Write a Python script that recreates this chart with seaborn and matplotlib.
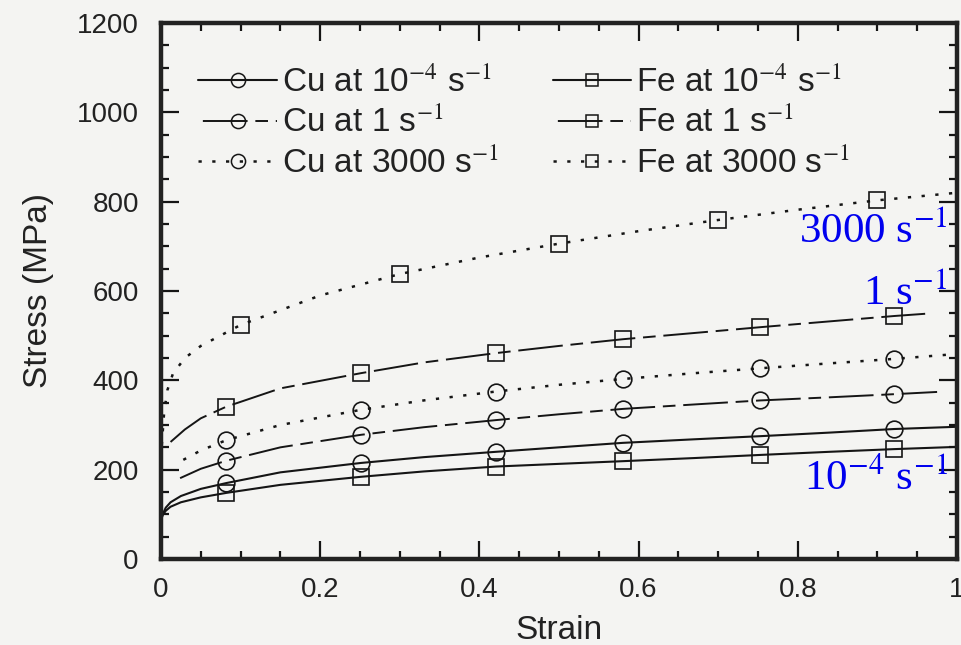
import matplotlib
matplotlib.use("Agg")
import matplotlib.pyplot as plt
from matplotlib.lines import Line2D
from matplotlib.ticker import MultipleLocator
import seaborn as sns

# curves (strain, stress MPa)
cu_slow_strain = [0, 0.002, 0.006, 0.012, 0.025, 0.05, 0.082, 0.15, 0.251, 0.33, 0.421, 0.5, 0.58, 0.67, 0.753, 0.84, 0.921, 1.0]
cu_slow_stress = [85, 100, 115, 127, 141, 157, 170, 194, 215, 228, 240, 250, 260, 268, 275, 283, 291, 296]
cu_mid_strain = [0.024, 0.05, 0.082, 0.15, 0.251, 0.33, 0.421, 0.5, 0.58, 0.67, 0.753, 0.84, 0.921, 0.975]
cu_mid_stress = [181, 202, 220, 250, 278, 295, 311, 324, 336, 346, 355, 362, 369, 374]
cu_fast_strain = [0.028, 0.05, 0.082, 0.15, 0.251, 0.33, 0.421, 0.5, 0.58, 0.67, 0.753, 0.84, 0.921, 1.0]
cu_fast_stress = [222, 243, 266, 300, 334, 355, 375, 390, 403, 416, 427, 438, 448, 459]
fe_slow_strain = [0, 0.002, 0.006, 0.012, 0.025, 0.05, 0.082, 0.15, 0.251, 0.33, 0.421, 0.5, 0.58, 0.67, 0.753, 0.84, 0.921, 1.0]
fe_slow_stress = [85, 98, 108, 117, 127, 138, 148, 166, 184, 196, 207, 213, 219, 226, 233, 240, 246, 251]
fe_mid_strain = [0.012, 0.03, 0.05, 0.082, 0.15, 0.251, 0.33, 0.421, 0.5, 0.58, 0.67, 0.753, 0.84, 0.921, 0.96]
fe_mid_stress = [262, 290, 315, 341, 382, 416, 440, 461, 477, 492, 506, 519, 532, 544, 549]
fe_fast_strain = [0.001, 0.004, 0.008, 0.015, 0.03, 0.05, 0.1, 0.2, 0.3, 0.4, 0.5, 0.6, 0.7, 0.8, 0.9, 1.0]
fe_fast_stress = [255, 330, 378, 415, 450, 477, 524, 590, 638, 675, 706, 734, 759, 782, 803, 820]

# marker positions
mark_strain = [0.082, 0.251, 0.421, 0.58, 0.753, 0.921]
cu_slow_marks = [170, 215, 240, 260, 275, 291]
cu_mid_marks = [220, 278, 311, 336, 355, 369]
cu_fast_marks = [266, 334, 375, 403, 427, 448]
fe_slow_marks = [148, 184, 207, 219, 233, 246]
fe_mid_marks = [341, 416, 461, 492, 519, 544]
fe_fast_mark_strain = [0.1, 0.3, 0.5, 0.7, 0.9]
fe_fast_marks = [524, 638, 706, 759, 803]

labels = [
    r"Cu at 10$^{-4}$ s$^{-1}$", r"Cu at 1 s$^{-1}$", r"Cu at 3000 s$^{-1}$",
    r"Fe at 10$^{-4}$ s$^{-1}$", r"Fe at 1 s$^{-1}$", r"Fe at 3000 s$^{-1}$",
]
rate_notes = [r"3000 s$^{-1}$", r"1 s$^{-1}$", r"10$^{-4}$ s$^{-1}$"]
rate_note_y = [707, 569, 154]
xtick_labels = ["0", "0.2", "0.4", "0.6", "0.8", "1"]

sns.set_style("ticks")
plt.rcParams["font.family"] = ["Liberation Sans", "DejaVu Sans"]
plt.rcParams["mathtext.fontset"] = "stix"

BG = "#f4f4f2"
INK = "#151515"
solid = "-"
dashdot = (0, (23, 4, 6.5, 4))
dotted = (0, (1.3, 4.2))

fig = plt.figure(figsize=(9.61, 6.45), dpi=100, facecolor=BG)
ax = fig.add_axes([161 / 961, 86 / 645, 796 / 961, 536 / 645])
ax.set_facecolor(BG)

series = [
    (cu_slow_strain, cu_slow_stress, mark_strain, cu_slow_marks, "o", solid, 1.5),
    (cu_mid_strain, cu_mid_stress, mark_strain, cu_mid_marks, "o", dashdot, 1.4),
    (cu_fast_strain, cu_fast_stress, mark_strain, cu_fast_marks, "o", dotted, 1.8),
    (fe_slow_strain, fe_slow_stress, mark_strain, fe_slow_marks, "s", solid, 1.5),
    (fe_mid_strain, fe_mid_stress, mark_strain, fe_mid_marks, "s", dashdot, 1.4),
    (fe_fast_strain, fe_fast_stress, fe_fast_mark_strain, fe_fast_marks, "s", dotted, 1.8),
]

handles = []
for (xs, ys, mx, my, mk, ls, lw), lab in zip(series, labels):
    sns.lineplot(x=xs, y=ys, ax=ax, color=INK, linestyle=ls, linewidth=lw,
                 sort=False, estimator=None)
    ms = 12 if mk == "o" else 11
    sns.lineplot(x=mx, y=my, ax=ax, color=INK, linestyle="none", marker=mk,
                 markersize=ms, markerfacecolor="none", markeredgecolor=INK,
                 markeredgewidth=1.2, sort=False, estimator=None)
    # legend sample starts with a gap and a short dash, like the original
    leg_ls = (25 * lw, dashdot[1]) if ls == dashdot else ls
    handles.append(Line2D([], [], color=INK, linestyle=leg_ls, linewidth=lw, marker=mk,
                          markersize=ms * 0.85, markerfacecolor="none",
                          markeredgecolor=INK, markeredgewidth=1.1, label=lab))

ax.set_xlim(0, 1)
ax.set_ylim(0, 1200)
ax.xaxis.set_major_locator(MultipleLocator(0.2))
ax.xaxis.set_minor_locator(MultipleLocator(0.05))
ax.yaxis.set_major_locator(MultipleLocator(200))
ax.yaxis.set_minor_locator(MultipleLocator(50))
ax.set_xticks([0, 0.2, 0.4, 0.6, 0.8, 1.0])
ax.set_xticklabels(xtick_labels)
ax.tick_params(which="both", direction="in", top=True, right=True, colors=INK,
               labelcolor="#222222")
ax.tick_params(which="major", length=13, width=1.6, labelsize=20)
ax.tick_params(axis="y", which="major", pad=16)
ax.tick_params(axis="x", which="major", pad=13)
ax.tick_params(which="minor", length=6, width=1.6)
for sp in ax.spines.values():
    sp.set_linewidth(3.2)
    sp.set_color("#222222")

ax.set_xlabel("Strain", fontsize=24, color="#222222")
ax.set_ylabel("Stress (MPa)", fontsize=24, color="#222222")
ax.xaxis.set_label_coords(0.5, -0.105)
ax.yaxis.set_label_coords(-0.135, 0.5)

leg = ax.legend(handles=handles, ncol=2, loc="upper left", bbox_to_anchor=(0.047, 0.918),
                frameon=False, fontsize=24, handlelength=2.35, handletextpad=0.15,
                columnspacing=1.62, labelspacing=0.25, borderpad=0, borderaxespad=0)
for t in leg.get_texts():
    t.set_color("#222222")

for note, ny in zip(rate_notes, rate_note_y):
    ax.text(0.988, ny, note, ha="right", va="baseline", color="#0000ee",
            fontsize=31, family=["Liberation Serif", "DejaVu Serif"])

fig.savefig("out.png", dpi=100, facecolor=BG)
